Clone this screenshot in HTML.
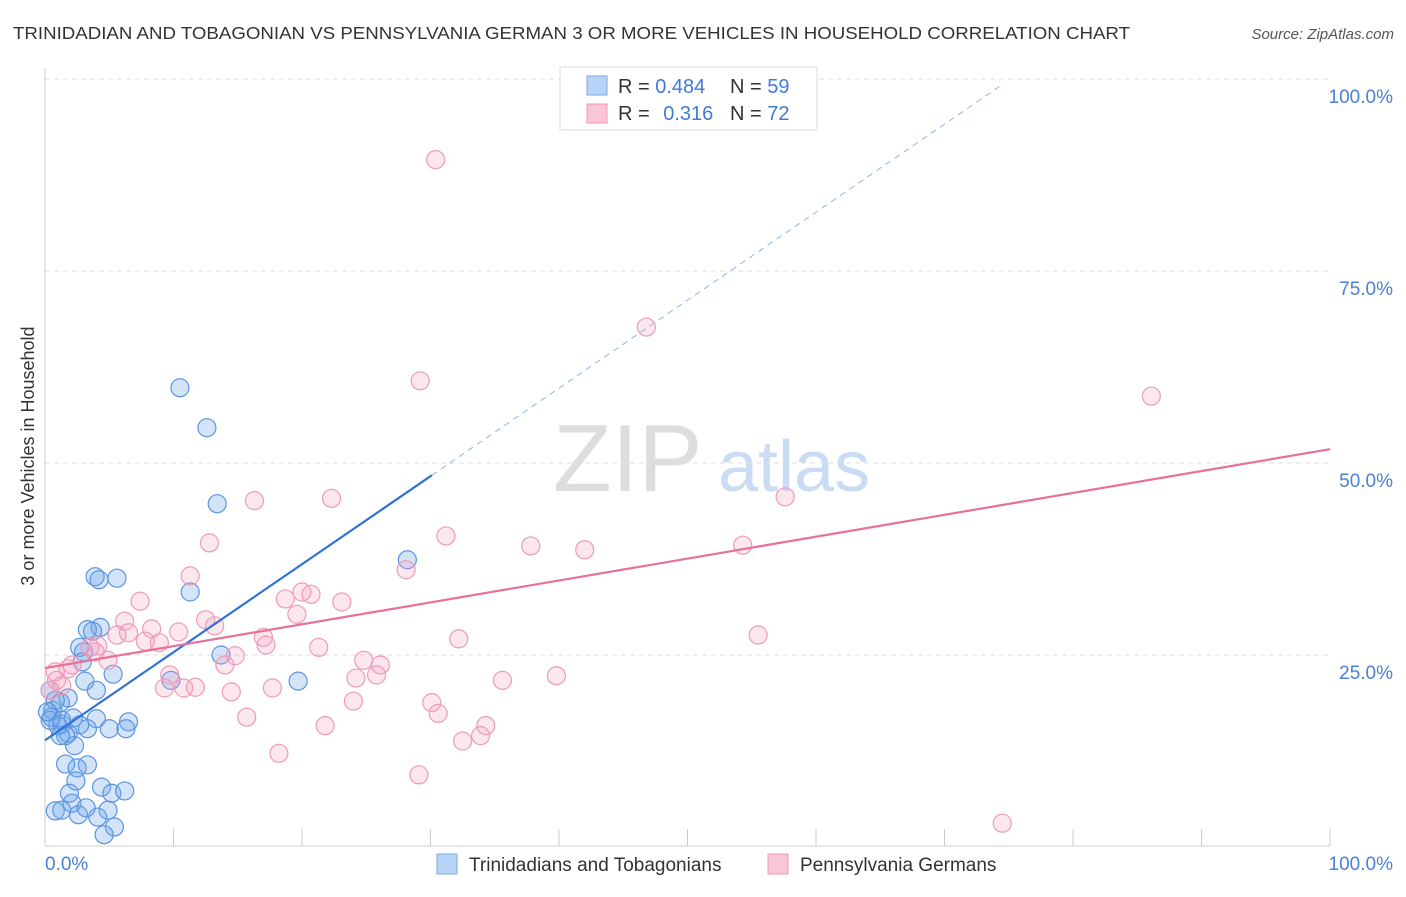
<!DOCTYPE html>
<html><head><meta charset="utf-8"><style>
body{margin:0;background:#fff;font-family:"Liberation Sans",sans-serif;}
svg text{font-family:"Liberation Sans",sans-serif;}
</style></head><body>
<svg id="chart" width="1406" height="892" xmlns="http://www.w3.org/2000/svg">
<text x="13" y="39" font-size="17.5" fill="#333" textLength="1117" lengthAdjust="spacingAndGlyphs">TRINIDADIAN AND TOBAGONIAN VS PENNSYLVANIA GERMAN 3 OR MORE VEHICLES IN HOUSEHOLD CORRELATION CHART</text>
<text x="1394" y="39" font-size="15" fill="#555" font-style="italic" text-anchor="end">Source: ZipAtlas.com</text>
<text transform="translate(34,456) rotate(-90)" font-size="18" fill="#333" text-anchor="middle">3 or more Vehicles in Household</text>
<g><text x="553" y="491" font-size="96" fill="#ddd" font-family="Liberation Serif">ZIP</text><text x="718" y="491" font-size="72" fill="#c9dcf3">atlas</text></g>
<g id="grid"></g><g id="axes"></g><g id="pts"></g><g id="lines"></g>
<g>
<rect x="560" y="67" width="257" height="63" fill="#fff" stroke="#ddd"/>
<rect x="587" y="76" width="20" height="19" fill="#b7d3f5" stroke="#7aaae6"/>
<rect x="587" y="104" width="20" height="19" fill="#f9c6d6" stroke="#f095b4"/>
<text x="618" y="93" font-size="20" fill="#333">R = <tspan fill="#3f7bd6">0.484</tspan></text>
<text x="730" y="93" font-size="20" fill="#333">N = <tspan fill="#3f7bd6">59</tspan></text>
<text x="618" y="120" font-size="20" fill="#333">R = <tspan fill="#3f7bd6" dx="8">0.316</tspan></text>
<text x="730" y="120" font-size="20" fill="#333">N = <tspan fill="#3f7bd6">72</tspan></text>
</g>
<g>
<rect x="437" y="854" width="20" height="20" fill="#b7d3f5" stroke="#7aaae6"/>
<text x="469" y="871" font-size="19" fill="#333">Trinidadians and Tobagonians</text>
<rect x="768" y="854" width="20" height="20" fill="#f9c6d6" stroke="#f095b4"/>
<text x="800" y="871" font-size="19" fill="#333">Pennsylvania Germans</text>
</g>
</svg>
<script>
const blueX=[10.5,12.6,13.4,28.2,3.9,5.6,4.2,11.3,4.3,3.3,3.7,2.7,3.0,2.9,13.7,5.3,9.8,19.7,3.1,4.0,0.4,1.8,1.2,0.6,0.5,4.0,6.5,6.3,5.0,3.3,1.3,1.8,2.3,1.6,1.0,1.6,3.3,2.5,2.4,4.4,5.2,6.2,1.9,2.1,4.9,0.8,2.6,4.1,5.4,4.6,0.4,0.8,0.2,1.3,2.2,2.7,1.2,3.2,1.3];
const blueY=[59.8,54.6,44.7,37.4,35.2,35.0,34.8,33.2,28.6,28.3,28.1,26.0,25.4,24.1,25.0,22.5,21.7,21.6,21.6,20.4,20.4,19.4,18.8,17.8,16.9,16.7,16.3,15.4,15.4,15.4,16.0,14.8,13.2,14.5,15.8,10.8,10.7,10.3,8.6,7.8,7.0,7.3,7.0,5.7,4.8,4.7,4.2,3.9,2.6,1.6,16.5,19.1,17.6,16.5,16.8,15.9,14.5,5.1,4.8];
const pinkX=[30.4,46.8,86.1,29.2,16.3,22.3,57.6,31.2,37.8,42.0,54.3,12.8,28.1,11.3,7.4,18.7,20.7,20.0,23.1,6.2,19.6,12.5,13.2,8.3,10.4,6.5,5.6,8.9,7.8,17.0,17.2,21.3,32.2,55.5,4.1,3.5,4.9,14.8,14.0,24.8,26.1,0.8,1.8,0.9,9.7,25.8,24.2,35.6,39.8,9.3,10.8,11.7,17.7,14.5,24.0,30.1,30.6,15.7,21.8,34.3,33.9,32.5,18.2,29.1,74.5,0.4,1.3,2.1,3.9];
const pinkY=[89.5,67.7,58.7,60.7,45.1,45.4,45.6,40.5,39.2,38.7,39.3,39.6,36.1,35.3,32.0,32.3,32.9,33.2,31.9,29.4,30.3,29.6,28.8,28.4,28.0,27.9,27.6,26.6,26.8,27.3,26.3,26.0,27.1,27.6,26.2,26.0,24.3,24.9,23.7,24.3,23.7,22.8,23.2,21.7,22.4,22.4,22.0,21.7,22.3,20.7,20.7,20.8,20.7,20.2,19.0,18.8,17.4,16.9,15.8,15.8,14.5,13.8,12.2,9.4,3.1,20.4,21.0,23.7,25.4];
const blueTrend=[13.9,1.146];
const pinkTrend=[23.3,0.285];
const yTicks=[25,50,75,100];
const yTickLabels=["25.0%","50.0%","75.0%","100.0%"];
const NS="http://www.w3.org/2000/svg";
const sx=v=>45+v*12.85, sy=v=>847-v*7.68;
function mk(t,a,p){const e=document.createElementNS(NS,t);for(const k in a)e.setAttribute(k,a[k]);document.getElementById(p).appendChild(e);return e;}
yTicks.forEach((t,i)=>{
 const g=mk('line',{x1:45,x2:1330,y1:sy(t),y2:sy(t),stroke:'#ddd','stroke-dasharray':'5,4'},'grid');
 
 
 const l=mk('text',{x:1393,y:sy(t)+24,'font-size':19,fill:'#4a7fd4','text-anchor':'end'},'grid');
 l.textContent=yTickLabels[i];
 
 
});
const ax=mk('line',{x1:45,x2:45,y1:68,y2:846,stroke:'#ccc'},'axes');


const bx=mk('line',{x1:45,x2:1330,y1:846,y2:846,stroke:'#ccc'},'axes');


for(let i=1;i<=10;i++){const tk=mk('line',{x1:sx(i*10),x2:sx(i*10),y1:829,y2:846,stroke:'#ccc'},'axes');
 
 }
[["0.0%",45,'start'],["100.0%",1393,'end']].forEach(([s,x,a])=>{const t=mk('text',{x:x,y:870,'font-size':19,fill:'#4a7fd4','text-anchor':a},'axes');t.textContent=s;
 
 });
blueX.forEach((x,i)=>{const c=mk('circle',{cx:sx(x),cy:sy(blueY[i]),r:9,fill:'rgba(110,165,235,0.3)',stroke:'#5b94e0','stroke-width':1.2},'pts');
 
 });
pinkX.forEach((x,i)=>{const c=mk('circle',{cx:sx(x),cy:sy(pinkY[i]),r:9,fill:'rgba(245,160,190,0.25)',stroke:'#ee9ab8','stroke-width':1.2},'pts');
 
 });
const bxEnd=30.1, bxDash=74.6;
const b1=mk('line',{x1:sx(0),y1:sy(blueTrend[0]),x2:sx(bxEnd),y2:sy(blueTrend[0]+blueTrend[1]*bxEnd),stroke:'#2f72d6','stroke-width':2.2},'lines');


const b2=mk('line',{x1:sx(bxEnd),y1:sy(blueTrend[0]+blueTrend[1]*bxEnd),x2:sx(bxDash),y2:sy(blueTrend[0]+blueTrend[1]*bxDash),stroke:'#8fb4e6','stroke-width':1,'stroke-dasharray':'6,5'},'lines');


const p1=mk('line',{x1:sx(0),y1:sy(pinkTrend[0]),x2:sx(100),y2:sy(pinkTrend[0]+pinkTrend[1]*100),stroke:'#e8709a','stroke-width':2.2},'lines');


</script>
</body></html>
